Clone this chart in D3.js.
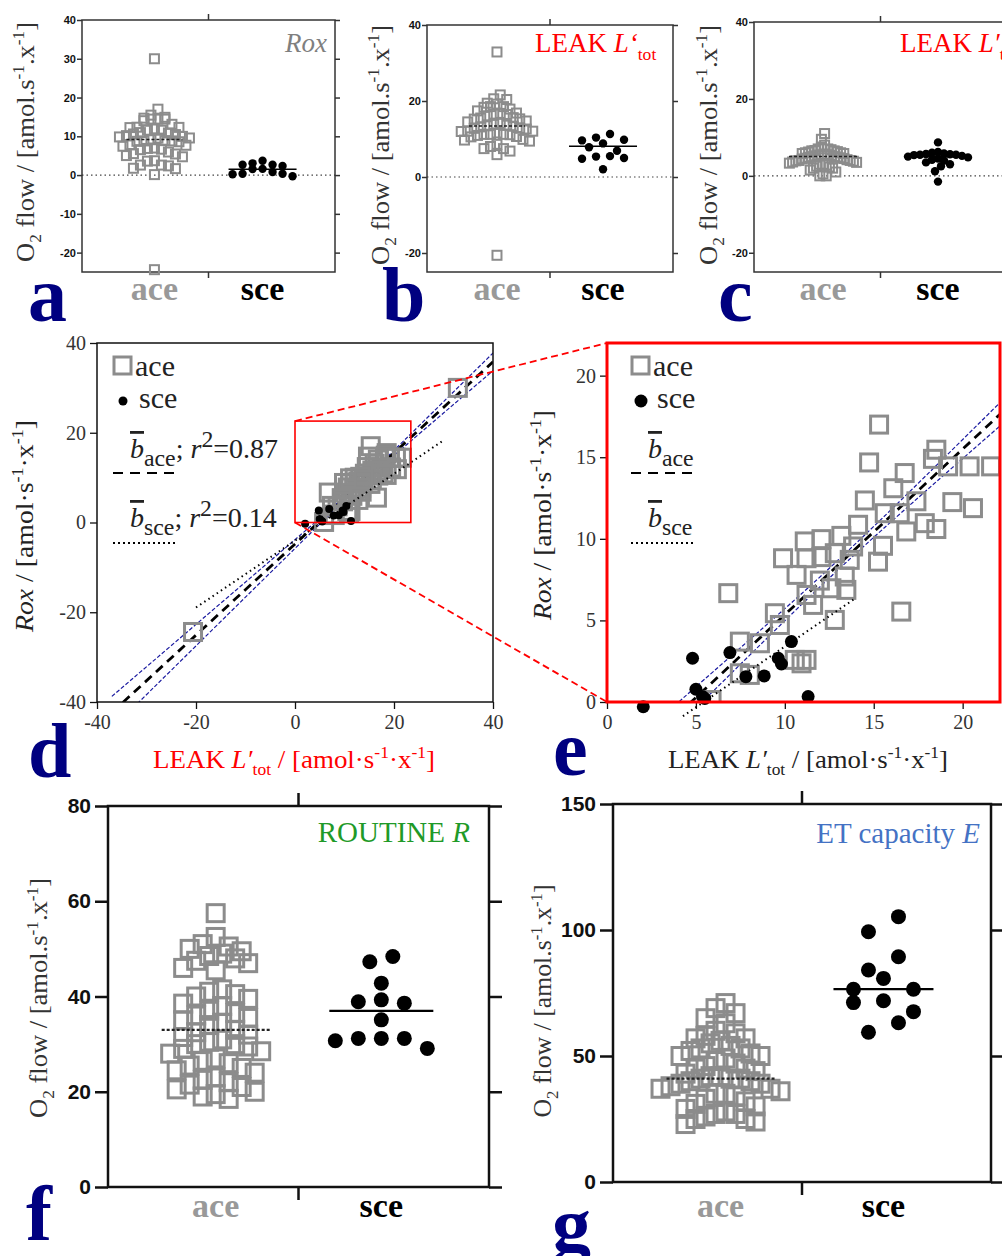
<!DOCTYPE html>
<html>
<head>
<meta charset="utf-8">
<script src="https://cdn.jsdelivr.net/npm/d3@7"></script>
<style>
body { margin: 0; background: #fff; }
svg { display: block; }
</style>
</head>
<body>
<svg width="1002" height="1256"></svg>
<script>
// ---- data ----
const groups = ["ace", "sce"];

// per sample: LEAK L'tot (x) and Rox (y), ace = squares
const aceLeak = [15.3,14.74,18.52,18.33,19.18,20.39,21.6,16.74,16.1,14.5,17.4,19.42,20.58,15.62,16.46,16.83,17.87,18.52,14.12,15.52,15.24,11.12,12.06,13.18,9.9,11.22,12.06,12.81,13.65,10.66,11.97,13.37,12.62,13.46,11.22,11.59,12.81,6.82,9.44,9.72,7.47,8.6,7.47,8.03,10.56,11.22,10.94,5.88,16.55,13.84,32.9,-20.6];
const aceRox = [17.0,14.68,15.46,14.9,14.44,14.44,14.44,14.03,13.1,12.35,12.3,12.25,11.88,11.57,11.57,10.45,10.96,10.6,10.86,9.57,8.6,9.84,9.98,10.18,8.81,8.81,8.88,9.12,8.71,7.79,7.44,7.69,6.97,6.87,6.56,5.95,5.03,6.67,5.44,4.72,3.7,3.6,1.76,1.66,2.58,2.58,2.37,0.12,5.54,9.53,30.0,-24.4];
// sce = dots
const sceLeak = [2.04,4.81,5.0,5.37,5.5,6.91,7.81,8.84,9.63,9.81,10.37,11.31];
const sceRox = [-0.29,2.68,0.78,0.33,0.22,3.03,1.55,1.6,2.68,2.33,3.7,0.33];

// panel c, LEAK L
const leakLAce = [11,9.5,8,7.5,7,7,6.8,6.5,6.5,6.3,6.2,6,6,5.8,5.8,5.6,5.5,5.5,5.3,5.2,5,5,4.9,4.8,4.7,4.5,4.4,4.2,4,4,3.8,3.6,3.5,3.3,3,3,2.8,2.5,2.3,2,2,1.5,1,0.5,0,0,6.6,5.4,4.6,3.9];
const leakLSce = [8.7,6.2,6.0,5.8,5.7,5.6,5.5,5.5,5.4,5.2,5.0,4.8,4.5,4.2,4.0,3.5,3.0,2.5,1.2,-1.5];

// panel f, ROUTINE R
const routineAce = [57.5,52.5,51,50.5,50,49.5,49,48.5,48,47.5,47,46,45.5,41.5,41,40.5,40,39.5,38.5,38,37,36.5,36,35.5,35,34.5,34,33,32.5,32,31.5,31,30.5,30,30,29.5,29,28.5,28,27,26.5,26,25.5,25,24.5,24,23,22.5,22,21.5,21,20.5,20,19.5,19,18.5];
const routineSce = [48.4,47.3,42.8,38.9,39.3,38.6,35.1,30.7,31.2,31.2,31.2,29.1];

// panel g, ET capacity E
const etAce = [71,69,67,65,63,60,59,58,57,57,56,55,54,53,53,52,51,50,50,49,48,47,46,45,45,44,43,42,42,41,41,41,40,40,39,39,38,37,37,36,35,35,34,33,32,31,30,29,28,27,27,26,25,25,24,23];
const etSce = [105.3,99.3,89.4,84.1,80.8,76.5,76.5,71.2,71.9,67.6,63.2,59.4];

// group means [ace, sce]
const roxMeans = [9.2, 1.5];
const leakTotMeans = [13.4, 8.1];
const leakLMeans = [5, 5];
const routineMeans = [33, 37];
const etMeans = [41, 76.5];

// regressions Rox = slope*L + intercept
const fitAce = [1.015, -4.8];
const fitSce = [0.745, -4.05];
// 95% band around the ace fit
const bandL = [-37, -20, 0, 5, 10, 13, 16, 22, 30, 40];
const bandHi = [-38.75, -22.71, -3.82, 0.93, 5.72, 8.7, 11.81, 18.24, 26.91, 37.77];
const bandLo = [-45.97, -27.49, -5.78, -0.375, 4.98, 8.1, 11.07, 16.82, 24.39, 33.83];

let svg = d3.select("svg");
const serif = "'Liberation Serif', 'DejaVu Serif', serif";
const sans = "'Liberation Sans', Arial, sans-serif";
const gray = "#8c8c8c";
const navy = "#000080";

// text with sub/sup/italic pieces
function rich(t, parts, fs, subScale) {
  let shift = 0;
  parts.forEach(p => {
    let s = p[0], k = p[1] || "";
    let target = k == "sub" ? fs * 0.28 : k == "sup" ? -fs * 0.38 : 0;
    let ts = t.append("tspan").text(s).attr("dy", target - shift);
    shift = target;
    if (k == "sub" || k == "sup") ts.attr("font-size", fs * (subScale || 0.65));
    if (k == "i") ts.attr("font-style", "italic");
    if (k == "ov") ts.attr("font-style", "italic").style("text-decoration", "overline");
  });
  return t;
}

function vtext(x, yc, fs, len, parts, color) {
  let t = svg.append("text")
    .attr("transform", "translate(" + x + "," + yc + ") rotate(-90)")
    .attr("text-anchor", "middle")
    .attr("font-family", serif).attr("font-size", fs).attr("fill", color || "#333");
  rich(t, parts, fs);
  if (len) t.attr("textLength", len).attr("lengthAdjust", "spacingAndGlyphs");
  return t;
}

function htext(x, y, fs, parts, color, anchor, len, subScale) {
  let t = svg.append("text").attr("x", x).attr("y", y)
    .attr("text-anchor", anchor || "start")
    .attr("font-family", serif).attr("font-size", fs).attr("fill", color || "#222");
  rich(t, parts, fs, subScale);
  if (len) t.attr("textLength", len).attr("lengthAdjust", "spacingAndGlyphs");
  return t;
}

function letter(s, x, y) {
  svg.append("text").attr("x", x).attr("y", y).text(s)
    .attr("font-family", serif).attr("font-weight", "bold")
    .attr("font-size", 78).attr("fill", navy);
}

// rows of points like a column scatter
function swarm(vals, y, bin, step) {
  let s = vals.slice().sort((a, b) => b - a);
  let rows = [];
  s.forEach(v => {
    let r = rows[rows.length - 1];
    if (r && y(v) - y(r[0]) < bin) r.push(v); else rows.push([v]);
  });
  let pts = [];
  rows.forEach(r => {
    // centre-out order
    let ord = [];
    r.forEach((v, i) => { if (i % 2 == 0) ord.push(v); else ord.unshift(v); });
    ord.forEach((v, i) => pts.push({ v: v, dx: (i - (r.length - 1) / 2) * step }));
  });
  return pts;
}

const o2Parts = [["O"], ["2", "sub"], [" flow / [amol.s"], ["-1", "sup"], [".x"], ["-1", "sup"], ["]"]];

function dotPanel(o) {
  let g = svg.append("g");
  let y = d3.scaleLinear().domain(o.dom).range([o.bottom, o.top]);
  let x = d3.scalePoint().domain(groups).range([o.left, o.right]).padding(o.pad);
  let mid = (x("ace") + x("sce")) / 2;

  if (o.zero) {
    g.append("line").attr("x1", o.left).attr("x2", o.right)
      .attr("y1", y(0)).attr("y2", y(0))
      .attr("stroke", "#444").attr("stroke-width", 1.2).attr("stroke-dasharray", "1.5,3");
  }

  g.append("g").attr("transform", "translate(" + o.left + ",0)")
    .call(d3.axisLeft(y).tickValues(o.ticks).tickSize(o.tl).tickPadding(o.tp).tickFormat(d => String(d)))
    .call(a => {
      a.select(".domain").remove();
      a.selectAll("line").attr("stroke", o.ax).attr("stroke-width", o.sw);
      a.selectAll("text").attr("font-family", sans).attr("font-weight", "bold")
        .attr("font-size", o.fs).attr("fill", "#111");
    });
  g.append("g").attr("transform", "translate(" + o.right + ",0)")
    .call(d3.axisRight(y).tickValues(o.ticks).tickSize(o.tl).tickFormat(""))
    .call(a => {
      a.select(".domain").remove();
      a.selectAll("line").attr("stroke", o.ax).attr("stroke-width", o.sw);
    });
  g.append("rect").attr("x", o.left).attr("y", o.top)
    .attr("width", o.right - o.left).attr("height", o.bottom - o.top)
    .attr("fill", "none").attr("stroke", o.ax).attr("stroke-width", o.sw);
  g.append("line").attr("x1", mid).attr("x2", mid).attr("y1", o.top - o.ct).attr("y2", o.top)
    .attr("stroke", o.ax).attr("stroke-width", o.sw);
  g.append("line").attr("x1", mid).attr("x2", mid).attr("y1", o.bottom).attr("y2", o.bottom + o.ct)
    .attr("stroke", o.ax).attr("stroke-width", o.sw);

  // squares
  g.selectAll(".sq").data(swarm(o.ace, y, o.binA, o.stepA)).enter().append("rect")
    .attr("x", d => x("ace") + d.dx - o.sq / 2).attr("y", d => y(d.v) - o.sq / 2)
    .attr("width", o.sq).attr("height", o.sq)
    .attr("fill", "none").attr("stroke", gray).attr("stroke-width", o.sqw);
  // dots
  g.selectAll(".dot").data(swarm(o.sce, y, o.binS, o.stepS)).enter().append("circle")
    .attr("cx", d => x("sce") + d.dx).attr("cy", d => y(d.v)).attr("r", o.r)
    .attr("fill", "#000");

  // means
  g.append("line").attr("x1", x("ace") - o.mA).attr("x2", x("ace") + o.mA)
    .attr("y1", y(o.means[0])).attr("y2", y(o.means[0]))
    .attr("stroke", "#222").attr("stroke-width", o.msw).attr("stroke-dasharray", "3,2");
  g.append("line").attr("x1", x("sce") - o.mS).attr("x2", x("sce") + o.mS)
    .attr("y1", y(o.means[1])).attr("y2", y(o.means[1]))
    .attr("stroke", "#000").attr("stroke-width", o.msw);

  // category labels
  g.selectAll(".cat").data(groups).enter().append("text")
    .attr("x", d => x(d)).attr("y", o.catY).attr("text-anchor", "middle")
    .attr("font-family", serif).attr("font-weight", "bold").attr("font-size", o.catFs)
    .attr("fill", d => d == "ace" ? "#999" : "#000").text(d => d);
}

// ---- a, b, c ----
const small = { tl: 5, tp: 1, fs: 11, sw: 1.5, ax: "#333", sq: 9, sqw: 2, r: 4.2,
  binA: 9, stepA: 7, binS: 8, zero: true, ct: 6, msw: 1.5, catY: 300, catFs: 34 };

dotPanel(Object.assign({}, small, { left: 82, top: 20, right: 335, bottom: 272, dom: [-25, 40],
  ticks: [-20, -10, 0, 10, 20, 30, 40], pad: 0.67, ace: aceRox, sce: sceRox, means: roxMeans,
  stepS: 10, mA: 28, mS: 34 }));
dotPanel(Object.assign({}, small, { left: 427, top: 25, right: 673, bottom: 272, dom: [-25, 40],
  ticks: [-20, 0, 20, 40], pad: 0.66, ace: aceLeak, sce: sceLeak, means: leakTotMeans,
  stepA: 6.5, stepS: 14, mA: 28, mS: 34 }));
dotPanel(Object.assign({}, small, { left: 754, top: 22, right: 1007, bottom: 272, dom: [-25, 40],
  ticks: [-20, 0, 20, 40], pad: 0.6, ace: leakLAce, sce: leakLSce, means: leakLMeans,
  binS: 6, stepS: 6, stepA: 3.2, mA: 34, mS: 30 }));

htext(327, 52, 27, [["Rox", "i"]], "#7f7f7f", "end");
htext(535, 52, 27, [["LEAK "], ["L\u2018", "i"], ["tot", "sub"]], "#ff0000");
htext(900, 52, 27, [["LEAK "], ["L\u2032", "i"], ["tot", "sub"]], "#ff0000");

vtext(34, 142, 26, 240, o2Parts);
vtext(389, 145, 26, 240, o2Parts);
vtext(717, 145, 26, 240, o2Parts);

letter("a", 28, 321);
letter("b", 382, 321);
letter("c", 718, 321);

// ---- f, g ----
const big = { tl: 13, tp: 4, fs: 21, sw: 2.5, ax: "#111", sq: 17, sqw: 3, r: 7.5,
  binA: 15, stepA: 13, binS: 15, zero: false, ct: 13, msw: 2.2, catY: 1217, catFs: 34 };

dotPanel(Object.assign({}, big, { left: 108, top: 806, right: 489, bottom: 1187, dom: [0, 80],
  ticks: [0, 20, 40, 60, 80], pad: 0.65, ace: routineAce, sce: routineSce, means: routineMeans,
  stepS: 23, mA: 54, mS: 52 }));
dotPanel(Object.assign({}, big, { left: 613, top: 804, right: 991, bottom: 1182, dom: [0, 150],
  ticks: [0, 50, 100, 150], pad: 0.66, ace: etAce, sce: etSce, means: etMeans,
  stepS: 30, binS: 16, stepA: 10, binA: 17, mA: 54, mS: 50 }));

htext(470, 842, 29, [["ROUTINE "], ["R", "i"]], "#1f9a28", "end");
htext(980, 843, 29, [["ET capacity "], ["E", "i"]], "#4472c4", "end");

vtext(47, 998, 25, 240, o2Parts);
vtext(551, 1001, 25, 233, o2Parts);

letter("f", 26, 1240);
letter("g", 552, 1251);

// ---- d, e scatter ----
function scatterPanel(o) {
  let g = svg.append("g");
  let x = d3.scaleLinear().domain(o.xd).range([o.left, o.right]);
  let y = d3.scaleLinear().domain(o.yd).range([o.bottom, o.top]);
  let clipId = "clip" + o.name;
  svg.append("clipPath").attr("id", clipId).append("rect")
    .attr("x", o.left).attr("y", o.top).attr("width", o.right - o.left).attr("height", o.bottom - o.top);

  let axStyle = a => {
    a.select(".domain").remove();
    a.selectAll("line").attr("stroke", "#111").attr("stroke-width", 1.3);
    a.selectAll("text").attr("font-family", serif).attr("font-size", 20).attr("fill", "#333");
  };
  g.append("g").attr("transform", "translate(0," + o.bottom + ")")
    .call(d3.axisBottom(x).tickValues(o.ticks).tickSize(7).tickPadding(6).tickFormat(d => String(d)))
    .call(axStyle);
  g.append("g").attr("transform", "translate(" + o.left + ",0)")
    .call(d3.axisLeft(y).tickValues(o.yticks).tickSize(7).tickPadding(4).tickFormat(d => String(d)))
    .call(axStyle);

  let inner = g.append("g").attr("clip-path", "url(#" + clipId + ")");
  let band = d3.line().x(d => x(d[0])).y(d => y(d[1])).curve(d3.curveNatural);
  [bandHi, bandLo].forEach(b => {
    inner.append("path").datum(bandL.map((v, i) => [v, b[i]]))
      .attr("d", band).attr("fill", "none")
      .attr("stroke", "#1a1aa0").attr("stroke-width", 1.2).attr("stroke-dasharray", "4,2");
  });
  inner.append("line")
    .attr("x1", x(o.aceR[0])).attr("y1", y(fitAce[0] * o.aceR[0] + fitAce[1]))
    .attr("x2", x(o.aceR[1])).attr("y2", y(fitAce[0] * o.aceR[1] + fitAce[1]))
    .attr("stroke", "#000").attr("stroke-width", 2.8).attr("stroke-dasharray", "9,6");
  g.append("line")
    .attr("x1", x(o.sceR[0])).attr("y1", y(fitSce[0] * o.sceR[0] + fitSce[1]))
    .attr("x2", x(o.sceR[1])).attr("y2", y(fitSce[0] * o.sceR[1] + fitSce[1]))
    .attr("stroke", "#000").attr("stroke-width", 2).attr("stroke-dasharray", "1.5,3.5");

  inner.selectAll(".sq").data(aceLeak.map((v, i) => [v, aceRox[i]])).enter().append("rect")
    .attr("x", d => x(d[0]) - 8.5).attr("y", d => y(d[1]) - 8.5)
    .attr("width", 17).attr("height", 17)
    .attr("fill", "none").attr("stroke", gray).attr("stroke-width", 3);
  g.selectAll(".dot").data(sceLeak.map((v, i) => [v, sceRox[i]])).enter().append("circle")
    .attr("cx", d => x(d[0])).attr("cy", d => y(d[1])).attr("r", o.r).attr("fill", "#000");

  g.append("rect").attr("x", o.left).attr("y", o.top)
    .attr("width", o.right - o.left).attr("height", o.bottom - o.top)
    .attr("fill", "none").attr("stroke", o.frame).attr("stroke-width", o.fw);

  // legend
  let lx = o.left + o.lg;
  g.append("rect").attr("x", lx + 17).attr("y", o.top + 14).attr("width", 17).attr("height", 17)
    .attr("fill", "none").attr("stroke", gray).attr("stroke-width", 3);
  htext(lx + 38, o.top + 33, 30, [["ace"]], "#222");
  g.append("circle").attr("cx", lx + 26).attr("cy", o.top + 58).attr("r", o.lr).attr("fill", "#000");
  htext(lx + 42, o.top + 65, 30, [["sce"]], "#222");
  htext(lx + 33, o.top + 115, 28, o.statA, "#222", "start", null, 0.85);
  htext(lx + 33, o.top + 184, 28, o.statS, "#222", "start", null, 0.85);
  g.append("line").attr("x1", lx + 16).attr("x2", lx + 80).attr("y1", o.top + 130).attr("y2", o.top + 130)
    .attr("stroke", "#000").attr("stroke-width", 2).attr("stroke-dasharray", "10,7");
  g.append("line").attr("x1", lx + 16).attr("x2", lx + 80).attr("y1", o.top + 200).attr("y2", o.top + 200)
    .attr("stroke", "#000").attr("stroke-width", 2).attr("stroke-dasharray", "2,3");
  return { x: x, y: y };
}

const dScale = scatterPanel({ name: "d", left: 97, right: 493, top: 343, bottom: 702,
  xd: [-40, 40], yd: [-40, 40], ticks: [-40, -20, 0, 20, 40], yticks: [-40, -20, 0, 20, 40],
  aceR: [-37, 40], sceR: [-20, 30], r: 4, lr: 4.5, frame: "#111", fw: 1.5, lg: 0,
  statA: [["b", "ov"], ["ace", "sub"], ["; "], ["r", "i"], ["2", "sup"], ["=0.87"]],
  statS: [["b", "ov"], ["sce", "sub"], ["; "], ["r", "i"], ["2", "sup"], ["=0.14"]] });

scatterPanel({ name: "e", left: 607, right: 1000, top: 343, bottom: 702,
  xd: [0, 22.1], yd: [0, 22], ticks: [0, 5, 10, 15, 20], yticks: [0, 5, 10, 15, 20],
  aceR: [4, 22.1], sceR: [4.27, 14], r: 6.5, lr: 6.5, frame: "#ff0000", fw: 3, lg: 8,
  statA: [["b", "ov"], ["ace", "sub"]],
  statS: [["b", "ov"], ["sce", "sub"]] });

// zoom box in d and connector lines to e
const zoomBox = [0, 23.4, 0, 22.6];
svg.append("rect").attr("x", dScale.x(zoomBox[0])).attr("y", dScale.y(zoomBox[3]))
  .attr("width", dScale.x(zoomBox[1]) - dScale.x(zoomBox[0]))
  .attr("height", dScale.y(zoomBox[2]) - dScale.y(zoomBox[3]))
  .attr("fill", "none").attr("stroke", "#ff0000").attr("stroke-width", 1.6);
svg.append("line").attr("x1", dScale.x(zoomBox[0])).attr("y1", dScale.y(zoomBox[3]))
  .attr("x2", 607).attr("y2", 343)
  .attr("stroke", "#ff0000").attr("stroke-width", 1.8).attr("stroke-dasharray", "7,4");
svg.append("line").attr("x1", dScale.x(zoomBox[0])).attr("y1", dScale.y(zoomBox[2]))
  .attr("x2", 607).attr("y2", 702)
  .attr("stroke", "#ff0000").attr("stroke-width", 1.8).attr("stroke-dasharray", "7,4");

const unitParts = [["  / [amol\u00b7s"], ["-1", "sup"], ["\u00b7x"], ["-1", "sup"], ["]"]];
vtext(33, 526, 26, 212, [["Rox", "i"]].concat(unitParts), "#222");
vtext(551, 515, 26, 210, [["Rox", "i"]].concat(unitParts), "#222");
htext(153, 768, 26, [["LEAK "], ["L\u2032", "i"], ["tot", "sub"]].concat(unitParts), "#ff0000", "start", 282);
htext(668, 768, 26, [["LEAK "], ["L\u2032", "i"], ["tot", "sub"]].concat(unitParts), "#222", "start", 280);

letter("d", 28, 777);
letter("e", 553, 775);
</script>
</body>
</html>
